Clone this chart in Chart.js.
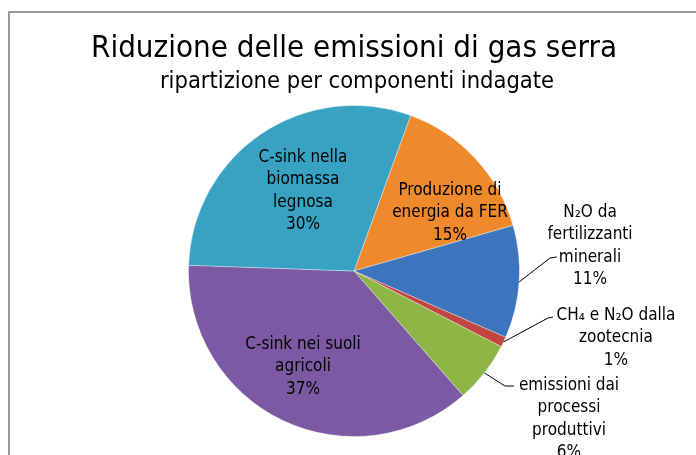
<!DOCTYPE html>
<html>
<head>
<meta charset="utf-8">
<script src="https://cdn.jsdelivr.net/npm/chart.js@4.4.1/dist/chart.umd.min.js"></script>
<style>
  html, body { margin: 0; padding: 0; background: #fff; }
  #wrap { position: relative; width: 696px; height: 455px; }
</style>
</head>
<body>
<div id="wrap"><canvas id="gasChart" width="696" height="455"></canvas></div>
<script>
var chartTitle = 'Riduzione delle emissioni di gas serra';
var chartSubtitle = 'ripartizione per componenti indagate';

var categories = [
    'Produzione di\nenergia da FER',
    'N\u2082O da\nfertilizzanti\nminerali',
    'CH\u2084 e N\u2082O dalla\nzootecnia',
    'emissioni dai\nprocessi\nproduttivi',
    'C-sink nei suoli\nagricoli',
    'C-sink nella\nbiomassa\nlegnosa'
];
var shares = [15, 11, 1, 6, 37, 30];
var sliceColors = ['#ef8a2c', '#3c74bd', '#c2453f', '#8db647', '#7b5aa3', '#37a2c2'];

// where each label block sits, relative to the pie centre, and its leader line (if any)
var labelLayout = [
    { dx: 96, dy: -58 },
    { dx: 236, dy: -25, elbow: [196, -13], end: [203, -14] },
    { dx: 262, dy: 67, elbow: [194, 47], end: [199, 46] },
    { dx: 215, dy: 148, elbow: [151, 115], end: [160, 115] },
    { dx: -51, dy: 96 },
    { dx: -51, dy: -80 }
];

var FONT = "'DejaVu Sans Condensed', Tahoma, 'DejaVu Sans', sans-serif";

var decorPlugin = {
    id: 'decor',
    beforeDraw: function(chart) {
        var ctx = chart.ctx;
        ctx.save();
        // frame of the chart area
        ctx.strokeStyle = '#9a9a9a';
        ctx.lineWidth = 2;
        ctx.beginPath();
        ctx.moveTo(9, 460);
        ctx.lineTo(9, 12);
        ctx.lineTo(700, 12);
        ctx.stroke();

        ctx.fillStyle = '#000';
        ctx.textAlign = 'center';
        ctx.textBaseline = 'alphabetic';
        ctx.font = '31px ' + FONT;
        ctx.fillText(chartTitle, 354, 57);
        ctx.font = '23.5px ' + FONT;
        ctx.fillText(chartSubtitle, 357, 88);
        ctx.restore();
    },
    afterDatasetsDraw: function(chart) {
        var ctx = chart.ctx;
        var arcs = chart.getDatasetMeta(0).data;
        ctx.save();
        ctx.font = '17px ' + FONT;
        ctx.fillStyle = '#000';
        ctx.textAlign = 'center';
        ctx.textBaseline = 'middle';
        arcs.forEach(function(arc, i) {
            var cx = arc.x, cy = arc.y;
            var lay = labelLayout[i];
            var lines = categories[i].split('\n').concat([shares[i] + '%']);
            var lh = 22.3;
            var top = cy + lay.dy - (lines.length - 1) * lh / 2;
            lines.forEach(function(t, k) {
                ctx.fillText(t, cx + lay.dx, top + k * lh);
            });
            if (lay.elbow) {
                var mid = (arc.startAngle + arc.endAngle) / 2;
                ctx.strokeStyle = '#000';
                ctx.lineWidth = 1;
                ctx.beginPath();
                ctx.moveTo(cx + Math.cos(mid) * arc.outerRadius, cy + Math.sin(mid) * arc.outerRadius);
                ctx.lineTo(cx + lay.elbow[0], cy + lay.elbow[1]);
                ctx.lineTo(cx + lay.end[0], cy + lay.end[1]);
                ctx.stroke();
            }
        });
        ctx.restore();
    }
};

new Chart(document.getElementById('gasChart'), {
    type: 'pie',
    data: {
        labels: categories,
        datasets: [{
            data: shares,
            backgroundColor: sliceColors,
            borderColor: 'rgba(255,255,255,0.35)',
            borderWidth: 1
        }]
    },
    options: {
        responsive: false,
        animation: false,
        rotation: 20,
        layout: { padding: { left: 188, right: 176, top: 105, bottom: 18 } },
        plugins: {
            legend: { display: false },
            tooltip: { enabled: false }
        }
    },
    plugins: [decorPlugin]
});
</script>
</body>
</html>
